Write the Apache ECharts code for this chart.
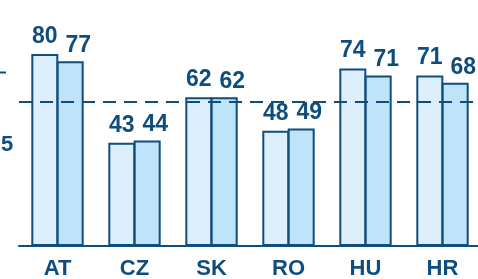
<!DOCTYPE html>
<html>
<head>
<meta charset="utf-8">
<script src="https://cdn.jsdelivr.net/npm/echarts@6/dist/echarts.min.js"></script>
<style>
  html, body { margin: 0; padding: 0; background: #fff; }
  #chart { width: 478px; height: 279px; }
</style>
</head>
<body>
<div id="chart"></div>
<script>
const categories = ["AT", "CZ", "SK", "RO", "HU", "HR"];
const seriesA = [80, 43, 62, 48, 74, 71];
const seriesB = [77, 44, 62, 49, 71, 68];
const refLine = 60;

const dark = "#0f4d7e";
const font = "Liberation Sans, Arial, sans-serif";

const chart = echarts.init(document.getElementById("chart"), null, { renderer: "canvas" });

function labelStyle(offset) {
  return {
    show: true,
    position: "top",
    distance: 6,
    offset: offset,
    color: dark,
    fontFamily: font,
    fontWeight: "bold",
    fontSize: 23,
  };
}

chart.setOption({
  animation: false,
  grid: {
    left: 19,
    top: 6,
    width: 462,
    bottom: 33,
    containLabel: false,
    outerBoundsMode: "none",
  },
  xAxis: {
    type: "category",
    data: categories,
    axisLine: { show: true, lineStyle: { color: dark, width: 2 } },
    axisTick: { show: false },
    axisLabel: {
      color: dark,
      fontFamily: font,
      fontWeight: "bold",
      fontSize: 22,
      margin: 12,
    },
  },
  yAxis: {
    type: "value",
    min: 0,
    max: 100,
    axisLine: { show: false },
    axisTick: { show: false },
    axisLabel: { show: false },
    splitLine: { show: false },
  },
  series: [
    {
      name: "A",
      type: "bar",
      data: seriesA,
      barWidth: 27,
      barGap: "-6%",
      itemStyle: { color: "#ddeffc", borderColor: dark, borderWidth: 2 },
      label: labelStyle([0, 0]),
      z: 2,
    },
    {
      name: "B",
      type: "bar",
      data: seriesB,
      barWidth: 27,
      barGap: "-6%",
      itemStyle: { color: "#bfe3f8", borderColor: dark, borderWidth: 2 },
      label: labelStyle([8, 2]),
      z: 3,
      markLine: {
        silent: true,
        symbol: "none",
        label: { show: false },
        lineStyle: { color: dark, width: 2, type: [13, 8] },
        data: [{ yAxis: refLine }],
        z: 5,
      },
    },
  ],
  // fragment of a cut-off axis on the left edge
  graphic: [
    {
      type: "line",
      shape: { x1: 0, y1: 72.5, x2: 6, y2: 72.5 },
      style: { stroke: dark, lineWidth: 2 },
    },
    {
      type: "text",
      left: 1,
      top: 134,
      style: {
        text: "5",
        fill: dark,
        font: "bold 22px " + font,
      },
    },
  ],
});
</script>
</body>
</html>
